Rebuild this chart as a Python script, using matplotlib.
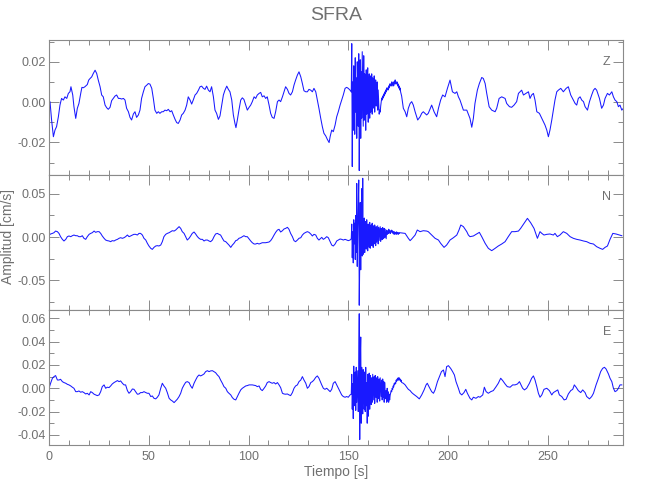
import numpy as np
import matplotlib
matplotlib.use("Agg")
import matplotlib.pyplot as plt
from matplotlib.ticker import MultipleLocator, FormatStrFormatter

# ---------------- data (amplitudes in 1e-3 cm/s, time in s) ----------------
z_pre = [(0.0,0.0),(0.5,0.2),(1.3,-8.9),(2.2,-17.2),(3.0,-13.9),(3.8,-12.2),(4.7,-7.3),(5.5,-1.5),(6.3,1.8),(7.2,1.0),(8.0,2.6),(8.9,1.8),(9.7,4.3),(10.5,5.1),(11.0,7.6),(11.9,3.5),(12.5,-2.3),(13.4,-8.1),(14.2,-3.1),(15.0,-0.7),(15.9,4.3),(16.5,7.3),(17.2,7.1),(18.0,7.6),(19.2,8.7),(19.9,10.9),(20.6,11.7),(21.4,12.5),(22.2,14.2),(23.1,15.8),(23.9,14.2),(24.7,10.9),(25.6,7.6),(26.4,3.5),(27.2,2.6),(28.1,-1.5),(28.9,-2.8),(29.7,-3.6),(30.6,-2.6),(31.4,0.7),(32.2,1.8),(33.1,3.0),(33.9,3.5),(34.8,1.8),(35.6,1.8),(36.4,1.5),(37.3,1.8),(38.1,1.0),(38.9,-3.1),(39.8,-4.8),(40.6,-7.6),(41.4,-8.9),(42.3,-5.9),(43.1,-4.8),(43.9,-7.6),(44.8,-6.4),(45.6,-4.0),(46.4,1.8),(47.3,5.1),(48.1,7.6),(49.0,8.4),(49.8,9.2),(50.6,8.9),(51.5,6.8),(52.3,1.8),(53.1,-4.0),(54.0,-5.6),(54.8,-4.8),(55.6,-5.6),(56.5,-4.8),(57.3,-4.8),(58.1,-4.0),(59.0,-4.3),(59.8,-3.6),(60.7,-4.8),(61.5,-4.3),(62.3,-6.4),(63.2,-8.6),(64.0,-10.2),(64.8,-10.6),(65.7,-8.9),(66.5,-6.4),(67.3,-5.6),(68.2,-4.0),(69.0,-1.5),(69.8,2.6),(70.7,1.0),(71.5,-1.0),(72.3,1.0),(73.2,3.5),(74.0,4.3),(74.9,5.9),(75.7,7.6),(76.5,7.9),(77.4,6.8),(78.2,6.3),(79.0,7.9),(79.9,5.9),(80.7,5.1),(81.5,7.6),(82.4,2.6),(83.2,-4.0),(84.0,-5.6),(84.9,-8.6),(85.7,-6.9),(86.6,-1.5),(87.4,3.5),(88.2,5.9),(89.1,7.9),(89.9,6.3),(90.7,5.1),(91.6,1.0),(92.4,-6.4),(93.2,-10.6),(93.7,-12.7),(94.4,-8.9),(95.2,-4.0),(96.1,1.0),(96.9,2.1),(97.7,1.3),(98.6,-1.5),(99.4,-4.0),(100.3,-2.6),(101.1,-1.5),(101.9,0.2),(102.8,2.6),(103.6,1.8),(104.4,3.5),(105.3,4.3),(106.1,4.8),(106.9,2.6),(107.8,3.1),(108.6,1.8),(109.4,2.6),(110.3,-1.5),(111.1,-5.6),(111.9,-7.6),(112.8,-8.1),(113.6,-4.8),(114.5,0.2),(115.3,1.0),(116.1,0.2),(117.0,2.6),(117.8,5.1),(118.6,7.6),(119.5,6.3),(120.3,4.3),(121.1,3.5),(122.0,5.1),(122.8,8.4),(123.6,10.9),(124.5,13.4),(125.3,15.0),(126.2,12.5),(127.0,9.2),(127.8,5.6),(128.7,5.1),(129.5,5.1),(130.3,6.3),(131.2,5.9),(132.0,5.1),(132.8,6.8),(133.7,5.1),(134.5,1.0),(135.3,-3.1),(136.2,-8.1),(137.0,-12.2),(137.8,-15.5),(138.7,-16.8),(139.5,-18.5),(140.4,-20.1),(140.9,-17.2),(141.7,-13.9),(142.5,-14.7),(143.4,-11.4),(144.2,-7.3),(145.0,-4.8),(145.9,-1.5),(146.7,1.0),(147.5,3.5),(148.4,6.8),(149.2,7.3),(150.0,6.8),(150.9,5.9)]
z_burst = [5,29,-32,10,-14,18,3,-16,22,-5,
           12,-18,20,8,-12,24,-34,2,21,-18,
           15,-8,25,6,-12,23,-9,14,4,-14,
           16,-6,11,17,-10,5,14,-8,13,-5,
           8,14,-6,12,2,-3,13,-5,7,11,
           -2,3,10,-4,6,0,-6,-4,-5,-2,
           0,
           2,1,3,2,4,3,5,4,6,5,
           7,6,7,6,8,7,9,8,9,8,
           10,8,9,10,8,10,9,11,9,10,
           9,10,8,9,7,8,6,7,5,4,
           3]
z_post = [(177.6,-3.1),(178.5,-4.8),(179.3,-7.3),(180.1,-3.1),(181.0,-0.7),(181.8,0.2),(182.6,-1.5),(183.5,-4.8),(184.8,-8.9),(186.0,-7.3),(186.8,-5.6),(187.6,-4.8),(189.3,-6.4),(190.1,-5.6),(191.8,-1.5),(193.0,-4.8),(194.3,-7.3),(195.2,-3.1),(196.3,1.0),(197.3,3.5),(198.5,2.6),(199.7,6.8),(201.0,10.9),(202.2,5.1),(203.5,4.3),(204.4,5.1),(205.2,2.6),(206.0,1.0),(207.7,-4.0),(209.4,-4.0),(211.0,-8.1),(211.9,-12.5),(212.7,-8.1),(213.5,-0.7),(214.7,5.9),(215.7,9.2),(216.9,12.2),(217.7,11.7),(218.6,9.2),(219.4,4.3),(220.6,-2.3),(221.9,-4.0),(223.6,-4.8),(224.4,-3.1),(225.6,1.8),(226.9,2.6),(228.6,1.8),(229.4,-0.7),(230.8,-2.3),(231.9,-2.6),(233.1,-1.5),(234.4,0.2),(235.3,4.3),(236.1,5.1),(236.9,5.9),(237.8,3.5),(239.1,4.3),(240.3,5.1),(241.1,1.8),(241.9,3.5),(242.8,4.3),(243.6,1.0),(244.5,-4.8),(245.8,-5.6),(247.0,-8.1),(248.6,-11.4),(249.5,-13.9),(250.3,-17.2),(251.1,-13.9),(252.0,-8.9),(252.8,-4.0),(253.6,1.0),(254.5,5.1),(255.3,5.9),(256.5,6.8),(257.8,5.1),(259.2,6.8),(260.3,7.6),(261.5,3.5),(262.8,1.0),(263.7,-0.7),(264.5,-1.5),(265.3,1.8),(266.2,2.6),(267.0,1.0),(267.9,0.2),(268.7,-2.3),(269.9,-4.0),(270.9,0.2),(272.0,3.5),(272.9,5.9),(273.7,6.8),(274.5,5.9),(275.9,1.8),(277.0,-3.1),(277.9,-1.5),(278.7,1.8),(279.9,4.3),(280.9,3.5),(282.1,5.1),(282.9,2.6),(283.7,1.0),(284.6,0.2),(285.4,-2.3),(286.2,-1.5),(287.1,-4.0),(287.9,-3.1)]

n_pre = [(0.0,2.3),(0.8,3.5),(1.7,4.2),(2.5,5.0),(3.3,6.9),(4.2,6.2),(5.0,4.2),(5.8,0.4),(6.7,-2.7),(7.5,-4.6),(8.4,-2.7),(9.2,0.4),(10.0,1.2),(10.9,0.4),(11.7,1.5),(12.5,2.3),(13.4,1.5),(14.2,1.5),(15.0,0.4),(15.9,0.4),(16.7,1.5),(17.5,-1.5),(18.4,-2.7),(19.2,0.4),(20.1,3.1),(20.9,4.2),(21.7,5.0),(22.6,6.9),(23.4,5.4),(24.2,6.2),(25.1,6.2),(25.9,4.2),(26.7,1.2),(27.6,-1.5),(28.4,-3.5),(29.2,-4.2),(30.1,-4.6),(30.9,-5.4),(31.7,-4.2),(32.6,-4.6),(33.4,-3.5),(34.3,-2.7),(35.1,-1.5),(35.9,-0.8),(36.8,-1.5),(37.6,-0.8),(38.4,0.4),(39.3,2.3),(40.1,0.4),(40.9,1.2),(41.8,2.3),(42.6,3.1),(43.4,3.1),(44.3,2.3),(45.1,4.2),(45.9,4.2),(46.8,2.3),(47.6,-1.5),(48.5,-3.5),(49.3,-7.3),(50.1,-10.4),(51.0,-13.1),(51.8,-14.3),(52.6,-12.0),(53.5,-10.4),(54.3,-10.0),(55.1,-10.4),(56.0,-9.3),(56.8,-5.4),(57.6,0.4),(58.5,3.1),(59.3,4.2),(60.2,5.0),(61.0,6.2),(61.8,7.3),(62.7,6.9),(63.5,8.1),(64.3,10.0),(65.2,12.0),(66.0,10.0),(66.8,6.2),(67.7,4.2),(68.5,0.4),(69.3,-3.5),(70.2,-1.5),(71.0,1.2),(71.8,4.2),(72.7,5.8),(73.5,3.5),(74.4,0.4),(75.2,-1.5),(76.0,-2.7),(76.9,-2.7),(77.7,-4.6),(78.5,-3.5),(79.4,-3.5),(80.2,-4.6),(81.0,-5.4),(81.9,-3.5),(82.7,0.4),(83.5,3.5),(84.4,4.2),(85.2,3.1),(86.0,2.3),(86.9,-1.5),(87.7,-4.6),(88.6,-5.4),(89.4,-7.3),(90.2,-9.3),(91.1,-12.0),(91.9,-9.3),(92.7,-7.3),(93.6,-4.2),(94.4,-3.5),(95.2,-1.5),(96.1,-0.8),(96.9,0.4),(97.7,1.5),(98.6,0.4),(99.4,0.4),(100.3,-2.3),(101.1,-4.6),(101.9,-6.6),(102.8,-8.1),(103.6,-8.1),(104.4,-7.3),(105.3,-8.1),(106.1,-7.3),(106.9,-6.6),(107.8,-6.6),(108.6,-6.6),(109.4,-6.2),(110.3,-5.8),(111.1,-4.2),(111.9,-1.5),(112.8,2.3),(113.6,5.4),(114.5,8.1),(115.3,8.9),(116.1,5.8),(117.0,7.3),(117.8,9.3),(118.6,10.0),(119.5,11.2),(120.3,8.9),(121.1,4.2),(122.0,0.4),(122.8,-4.2),(123.6,-5.4),(124.5,-3.5),(125.3,-1.5),(126.2,-0.8),(127.0,2.3),(127.8,4.2),(128.7,5.4),(129.5,6.2),(130.3,5.4),(131.2,3.5),(132.0,1.2),(132.8,3.1),(133.7,2.3),(134.5,-1.5),(135.3,-3.5),(136.7,-0.4),(137.5,-2.7),(138.3,-1.5),(139.2,0.4),(140.0,-0.8),(140.9,-5.4),(141.7,-9.3),(142.5,-10.4),(143.4,-8.1),(144.2,-4.6),(145.0,-3.5),(145.9,-2.3),(146.7,-2.7),(147.5,-3.5),(148.4,-2.7),(149.2,-3.5),(150.0,-4.2),(150.9,-3.5)]
n_burst = [-2,15,-24,6,-30,20,-8,16,-26,25,
           -18,62,-34,10,35,66,-79,-28,40,-38,
           30,56,-22,68,-20,5,22,-18,10,18,
           -14,20,-4,-16,15,3,-12,17,-13,6,
           14,-10,16,-2,-12,13,-8,14,0,-10,
           12,-6,4,13,-8,11,-4,5,12,-5,
           10,2,-3,11,-2,6,10,-1,9,3,
           -2,
           8,3,7,4,9,5,8,4,7,6,
           8,5,7,4,6,3,6,4,5,3,
           6,4,5,3,5,4,5]
n_post = [(178.5,4.2),(180.1,-1.5),(181.0,-4.2),(181.8,-2.3),(183.5,2.3),(184.6,8.1),(186.0,6.2),(187.6,7.3),(189.3,6.9),(190.1,6.2),(191.8,2.3),(193.5,-1.5),(195.2,-3.5),(196.3,-7.3),(198.0,-12.0),(199.3,-9.3),(201.0,-3.5),(202.7,-0.8),(204.4,2.3),(205.5,8.1),(206.4,13.9),(207.7,12.0),(209.4,6.2),(210.2,2.3),(211.0,0.4),(212.7,1.2),(214.4,3.5),(215.7,5.4),(216.9,0.4),(218.6,-7.3),(220.2,-13.1),(221.9,-15.8),(223.6,-13.1),(225.2,-10.4),(226.9,-8.1),(228.6,-5.4),(230.2,0.4),(231.9,6.2),(233.6,6.2),(235.3,6.9),(236.4,10.0),(238.1,15.8),(239.8,21.6),(241.4,16.6),(243.1,10.0),(244.8,-1.5),(246.1,6.2),(247.0,4.2),(248.1,2.3),(249.5,3.1),(251.1,3.5),(252.8,2.3),(253.6,4.2),(254.8,0.4),(256.1,2.3),(257.8,6.2),(259.5,4.2),(261.2,0.4),(262.8,-1.5),(264.5,-2.7),(266.2,-3.5),(267.9,-4.6),(269.5,-5.4),(271.2,-7.3),(272.9,-8.1),(274.5,-11.2),(276.2,-13.1),(277.5,-14.3),(278.7,-12.0),(279.9,-10.4),(281.2,-2.7),(282.6,4.2),(284.2,3.5),(285.9,2.3),(287.1,1.5)]

e_pre = [(0.0,0.0),(0.8,4.3),(1.7,8.6),(2.5,10.0),(3.3,10.9),(4.2,7.1),(5.0,7.1),(5.8,7.7),(6.7,5.7),(7.5,4.9),(8.4,4.3),(9.2,3.4),(10.0,2.9),(10.9,2.0),(11.7,0.9),(12.5,0.0),(13.4,-2.9),(14.2,-2.9),(15.0,-2.3),(15.9,-3.4),(16.7,-2.9),(17.5,-3.7),(18.4,-4.9),(19.2,-4.3),(20.1,-5.7),(20.9,-2.9),(21.7,-3.7),(22.6,-5.1),(23.4,-5.7),(24.2,-6.3),(25.1,-5.7),(25.9,-2.9),(26.7,1.4),(27.6,2.9),(28.4,0.0),(29.2,0.9),(30.1,0.6),(30.9,2.0),(31.7,3.7),(32.6,4.9),(33.4,5.7),(34.3,6.6),(35.1,5.7),(35.9,6.3),(36.8,4.3),(37.6,2.9),(38.4,2.9),(39.3,-2.0),(40.1,-4.3),(40.9,-2.9),(41.8,-0.6),(42.6,-0.9),(43.4,-2.9),(44.3,-5.1),(45.1,-4.9),(45.9,-3.7),(46.8,-3.7),(47.6,-2.9),(48.5,-3.7),(49.3,-4.3),(50.1,-4.3),(51.0,-7.1),(51.8,-6.6),(52.6,-8.6),(53.5,-9.1),(54.3,-7.7),(55.1,-5.7),(56.0,0.0),(56.8,4.3),(57.6,2.0),(58.5,0.0),(59.3,-3.7),(60.2,-8.6),(61.0,-10.0),(61.8,-10.9),(62.7,-12.3),(63.5,-10.9),(64.3,-9.4),(65.2,-7.1),(66.0,-4.3),(66.8,0.0),(67.7,2.9),(68.5,5.1),(69.3,5.7),(70.2,4.9),(71.0,2.0),(71.8,0.0),(72.7,4.3),(73.5,7.1),(74.4,10.0),(75.2,11.4),(76.0,10.6),(76.9,11.4),(77.7,12.3),(78.5,14.3),(79.4,15.1),(80.2,14.3),(81.0,14.9),(81.9,15.1),(82.7,14.3),(83.5,13.4),(84.4,11.4),(85.2,10.0),(86.0,7.1),(86.9,4.3),(87.7,1.4),(88.6,0.0),(89.4,-2.9),(90.2,-4.3),(91.1,-5.7),(91.9,-8.0),(92.7,-9.4),(93.6,-10.0),(94.4,-7.1),(95.2,-4.3),(96.1,-1.4),(96.9,0.0),(97.7,0.9),(98.6,2.0),(99.4,2.3),(100.3,2.9),(101.1,2.9),(101.9,2.9),(102.8,2.6),(103.6,2.3),(104.4,1.4),(105.3,2.0),(106.1,-0.9),(106.9,-2.0),(107.8,0.0),(108.6,2.0),(109.4,4.9),(110.3,5.7),(111.1,4.9),(111.9,4.3),(112.8,4.9),(113.6,3.7),(114.5,4.9),(115.3,2.9),(116.1,0.6),(117.0,-4.3),(117.8,-4.9),(118.6,-5.1),(119.5,-4.9),(120.3,-5.7),(121.1,-6.3),(122.0,-3.7),(122.8,0.0),(123.6,2.0),(124.5,2.9),(125.3,5.7),(126.2,7.1),(127.0,10.0),(127.8,7.1),(128.7,4.3),(129.5,0.0),(130.3,1.4),(131.2,4.9),(132.0,5.7),(132.8,7.1),(133.7,9.4),(134.5,10.6),(135.3,8.6),(136.7,2.9),(137.5,0.0),(138.3,-0.9),(139.2,0.0),(140.0,-1.4),(140.9,-2.9),(141.7,-0.9),(142.5,4.3),(143.4,5.7),(144.2,2.9),(145.0,0.0),(145.9,-2.9),(146.7,-5.7),(147.5,-7.1),(148.4,-7.7),(149.2,-7.1),(150.0,-7.7),(150.9,-5.7)]
e_burst = [-5,12,-18,4,-26,19,-15,8,14,-19,
           18,-12,3,15,-20,17,64,-44,25,44,
           -30,18,-8,-22,16,2,-18,14,-20,18,
           -15,5,-30,12,-24,10,13,-18,11,-6,
           -14,9,-12,12,0,-10,10,-13,11,-2,
           -8,9,-12,10,-3,-9,8,-11,9,0,
           -7,7,-10,8,-8,6,-12,5,-4,-9,
           -2,-12,0,-11,-3,-12,-5,-10,-6,
           -4,-2,-3,0,-1,2,1,4,3,5,
           4,7,6,8,7,9,7,9,7,8,
           6,7,5]
e_post = [(177.6,4.3),(178.5,2.9),(179.3,0.9),(180.1,-0.9),(181.0,-2.0),(181.8,-3.7),(182.6,-4.9),(184.3,-7.1),(185.6,-9.1),(186.8,-5.7),(188.0,-1.4),(189.0,2.9),(189.6,4.3),(190.6,0.9),(191.8,-2.9),(192.7,-4.3),(193.5,-1.4),(194.7,5.7),(195.7,10.0),(196.7,14.3),(197.7,15.7),(198.5,10.0),(199.3,18.6),(200.2,19.4),(201.3,17.1),(202.3,14.3),(203.2,11.4),(204.0,5.7),(205.2,0.0),(206.0,-4.3),(206.9,-5.7),(208.0,-3.7),(208.9,-0.9),(209.7,-4.3),(211.0,-8.6),(211.9,-10.0),(212.7,-7.7),(214.0,-8.6),(215.2,-7.1),(216.0,-7.7),(217.4,-5.7),(218.2,0.9),(219.1,-2.9),(220.2,-4.3),(221.4,-2.9),(222.7,-2.0),(224.1,1.4),(225.2,4.3),(226.4,8.6),(227.4,6.6),(228.6,3.7),(229.7,1.4),(231.1,0.9),(232.4,2.9),(233.6,2.9),(234.8,3.7),(235.8,5.7),(236.6,2.9),(237.4,0.0),(238.3,-1.4),(239.4,0.0),(240.8,4.3),(241.9,8.6),(242.8,10.6),(243.6,7.1),(244.5,1.4),(245.3,-4.3),(246.1,-7.7),(247.0,-5.7),(248.1,-0.9),(249.5,0.0),(250.8,-2.0),(252.0,-5.7),(252.8,-3.7),(254.1,-2.3),(255.0,-1.4),(255.8,-5.7),(257.0,-7.1),(258.2,-10.0),(259.2,-9.4),(260.3,-4.9),(261.5,-2.0),(262.5,-0.9),(263.3,2.9),(264.2,0.9),(265.3,-2.0),(266.5,-3.7),(267.5,-1.4),(268.7,-3.7),(269.5,-7.1),(270.9,-9.1),(272.0,-7.1),(272.9,-4.3),(274.2,2.9),(275.4,8.6),(276.5,14.3),(277.5,17.1),(278.4,18.0),(279.2,16.6),(280.4,12.3),(281.2,8.6),(282.1,5.7),(282.9,0.0),(283.7,-2.9),(284.6,-2.0),(285.4,0.0),(286.2,2.9),(287.1,2.9)]

channels = ["Z", "N", "E"]
burst_start = 151.5
burst_step = 0.25
ylims = [(-0.0362, 0.0308), (-0.0845, 0.0718), (-0.0487, 0.0672)]
ymajor = [0.02, 0.05, 0.02]
yminor = [0.01, 0.025, 0.01]
x_max = 287.7
title = "SFRA"
xlabel = "Tiempo [s]"
ylabel = "Amplitud [cm/s]"


def build(pre, burst, post):
    t1, v1 = zip(*pre)
    t3, v3 = zip(*post)
    t2 = burst_start + burst_step * np.arange(len(burst))
    t = np.concatenate([t1, t2, t3])
    v = np.concatenate([v1, burst, v3]) / 1000.0
    return t, v


series = [build(z_pre, z_burst, z_post), build(n_pre, n_burst, n_post), build(e_pre, e_burst, e_post)]

# ---------------- plotting ----------------
plt.rcParams['font.family'] = ['Liberation Sans', 'DejaVu Sans']
txt = '#707070'
axc = '#8a8a8a'

fig = plt.figure(figsize=(6.5, 5.0), dpi=100)
L, W = 49 / 650, 574 / 650
tops = [40, 175, 310]
axes = []
for i in range(3):
    bottom = 1 - (tops[i] + 135) / 500
    ax = fig.add_axes([L, bottom, W, 135 / 500])
    axes.append(ax)
    t, v = series[i]
    ax.plot(t, v, color='#0000ff', lw=0.75, alpha=0.9)
    ax.set_xlim(0, x_max)
    ax.set_ylim(*ylims[i])
    ax.xaxis.set_major_locator(MultipleLocator(50))
    ax.xaxis.set_minor_locator(MultipleLocator(10))
    ax.yaxis.set_major_locator(MultipleLocator(ymajor[i]))
    ax.yaxis.set_minor_locator(MultipleLocator(yminor[i]))
    ax.yaxis.set_major_formatter(FormatStrFormatter('%.2f'))
    ax.tick_params(which='both', direction='in', top=True, right=True,
                   color=axc, labelcolor=txt, labelsize=9, pad=2)
    ax.tick_params(which='major', length=7, width=0.7)
    ax.tick_params(which='minor', length=3.5, width=0.7)
    for sp in ax.spines.values():
        sp.set_color(axc)
        sp.set_linewidth(0.8)
    if i < 2:
        ax.tick_params(labelbottom=False)
    ax.text(0.972, 0.84, channels[i], transform=ax.transAxes, ha='center', va='center',
            color=txt, fontsize=9)

axes[2].set_xlabel(xlabel, color=txt, fontsize=10, labelpad=2)
axes[2].tick_params(axis='x', pad=4)
fig.text(0.013, 1 - 237 / 500, ylabel, rotation=90, ha='center', va='center', color=txt, fontsize=10)
fig.text(0.5 * (L + L + W), 1 - 15 / 500, title, ha='center', va='center', color=txt, fontsize=14)

fig.savefig("out.png", dpi=100)
